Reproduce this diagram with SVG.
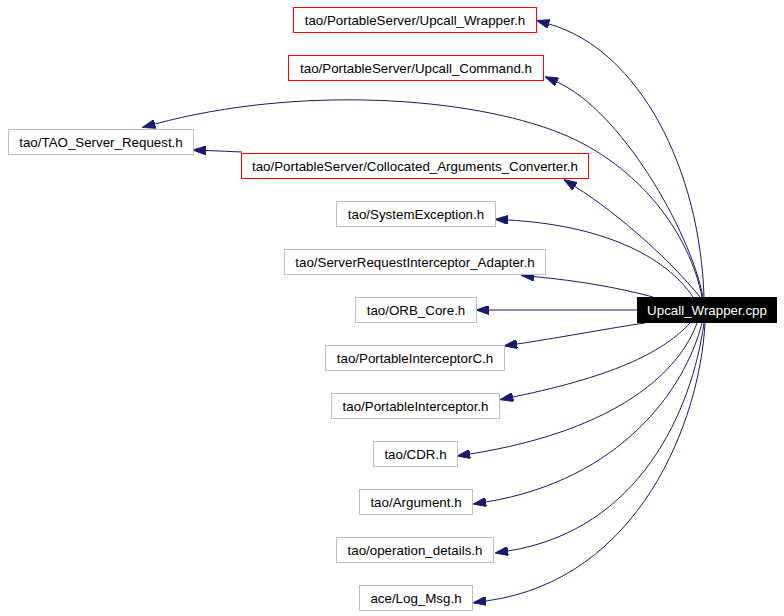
<svg xmlns="http://www.w3.org/2000/svg" width="784" height="616" viewBox="0 0 784 616">
<style>
.n rect{fill:#ffffff;stroke:#bfbfbf;stroke-width:1}
.n.red rect{stroke:#ff0000}
.n.root rect{fill:#000000;stroke:#000000}
.n text{font-family:"Liberation Sans",Arial,sans-serif;font-size:13.33px;fill:#000000;text-anchor:middle}
.n.root text{fill:#ffffff}
#edges path{fill:none;stroke:#191970;stroke-width:1;marker-end:url(#arr)}
</style>
<defs>
<marker id="arr" markerUnits="userSpaceOnUse" markerWidth="13" markerHeight="9" refX="0" refY="4.5" orient="auto">
<path d="M0,0 L13,4.5 L0,9 z" fill="#191970" stroke="#191970" stroke-width="1"/>
</marker>
</defs>
<rect width="784" height="616" fill="#ffffff"/>
<g id="edges">
<path d="M704,297 C700,170 640,50 549,24"/>
<path d="M703,297 C690,230 620,110 557,82"/>
<path d="M702,297 C690,235 640,165 560,133 C470,97 300,85 155,124"/>
<path d="M242,152 C230,151.5 220,151 206,150.5"/>
<path d="M700,297 C670,260 620,215 575,186.5"/>
<path d="M693,297 C665,255 600,225 508,220"/>
<path d="M653,297 C620,288 580,281 534,276.5"/>
<path d="M637,310 L489,310"/>
<path d="M645,323 C610,328 570,336 517,344"/>
<path d="M690,323 C665,350 620,375 513,397"/>
<path d="M697,323 C680,370 620,430 470,454"/>
<path d="M702,323 C685,390 620,480 486,502"/>
<path d="M704,323 C692,410 640,530 508,551"/>
<path d="M705,323 C700,420 640,580 486,601"/>
</g>
<g id="n_upcall_wrapper_h" class="n red"><rect x="293.5" y="7.5" width="243" height="25"/><text x="415" y="24.5">tao/PortableServer/Upcall_Wrapper.h</text></g>
<g id="n_upcall_command_h" class="n red"><rect x="288.5" y="55.5" width="255" height="25"/><text x="416" y="72.5">tao/PortableServer/Upcall_Command.h</text></g>
<g id="n_tao_server_request_h" class="n"><rect x="8.5" y="129.5" width="185" height="25"/><text x="101" y="146.5">tao/TAO_Server_Request.h</text></g>
<g id="n_collocated_h" class="n red"><rect x="241.5" y="153.5" width="347" height="25"/><text x="415" y="170.5">tao/PortableServer/Collocated_Arguments_Converter.h</text></g>
<g id="n_systemexception_h" class="n"><rect x="336.5" y="201.5" width="159" height="25"/><text x="416" y="218.5">tao/SystemException.h</text></g>
<g id="n_sri_adapter_h" class="n"><rect x="284.5" y="249.5" width="261" height="25"/><text x="415" y="266.5">tao/ServerRequestInterceptor_Adapter.h</text></g>
<g id="n_orb_core_h" class="n"><rect x="355.5" y="297.5" width="121" height="25"/><text x="416" y="314.5">tao/ORB_Core.h</text></g>
<g id="n_upcall_wrapper_cpp" class="n root"><rect x="637.5" y="297.5" width="139" height="25"/><text x="707" y="314.5">Upcall_Wrapper.cpp</text></g>
<g id="n_portableinterceptorc_h" class="n"><rect x="325.5" y="345.5" width="179" height="25"/><text x="415" y="362.5">tao/PortableInterceptorC.h</text></g>
<g id="n_portableinterceptor_h" class="n"><rect x="331.5" y="393.5" width="168" height="25"/><text x="415.5" y="410.5">tao/PortableInterceptor.h</text></g>
<g id="n_cdr_h" class="n"><rect x="373.5" y="441.5" width="84" height="25"/><text x="415.5" y="458.5">tao/CDR.h</text></g>
<g id="n_argument_h" class="n"><rect x="359.5" y="489.5" width="113" height="25"/><text x="416" y="506.5">tao/Argument.h</text></g>
<g id="n_operation_details_h" class="n"><rect x="336.5" y="537.5" width="157" height="25"/><text x="415" y="554.5">tao/operation_details.h</text></g>
<g id="n_log_msg_h" class="n"><rect x="359.5" y="585.5" width="113" height="25"/><text x="416" y="602.5">ace/Log_Msg.h</text></g>
</svg>
